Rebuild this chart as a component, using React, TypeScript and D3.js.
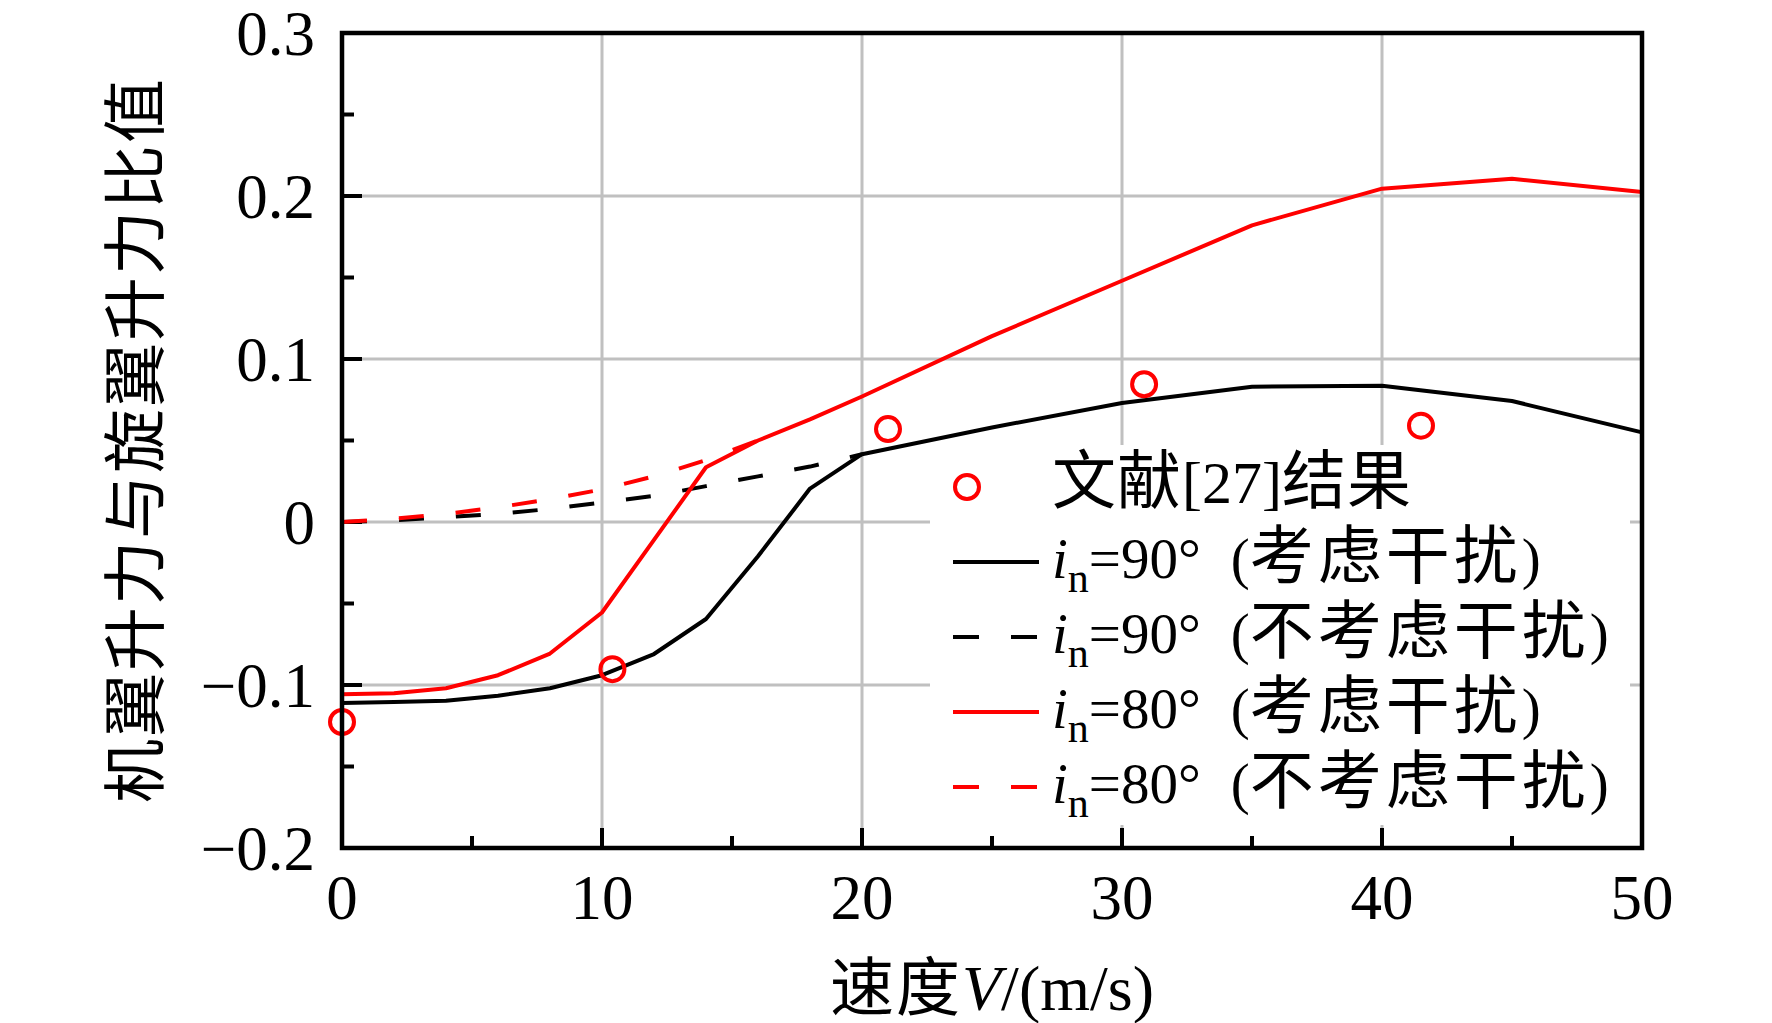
import React from "react";
import * as d3 from "d3";

// ---- data ----
const xSolid = [0, 2, 4, 6, 8, 10, 12, 14, 16, 18, 20, 25, 30, 35, 40, 45, 50];
const black90 = [-0.111, -0.1105, -0.1097, -0.1066, -0.102, -0.094, -0.081, -0.0595, -0.021, 0.0205, 0.0416, 0.058, 0.073, 0.083, 0.0836, 0.0742, 0.055];
const red80 = [-0.1057, -0.105, -0.102, -0.094, -0.0807, -0.0555, -0.011, 0.0336, 0.05, 0.063, 0.077, 0.114, 0.148, 0.182, 0.2045, 0.2106, 0.2025];
const xDash90 = [0, 2, 4, 6, 8, 10, 12, 14, 16, 18, 20];
const black90n = [0, 0.001, 0.003, 0.005, 0.008, 0.012, 0.016, 0.022, 0.028, 0.034, 0.0416];
const xDash80 = [0, 2, 4, 6, 8, 10, 12, 14, 16];
const red80n = [0, 0.002, 0.005, 0.009, 0.014, 0.02, 0.028, 0.038, 0.05];
const refX = [0, 10.4, 21, 30.85, 41.5];
const refY = [-0.1227, -0.0903, 0.057, 0.0845, 0.0591];

const xTicks = [0, 10, 20, 30, 40, 50];
const xMinor = [5, 15, 25, 35, 45];
const yTicks = [-0.2, -0.1, 0, 0.1, 0.2, 0.3];
const yTickLabels = ["\u22120.2", "\u22120.1", "0", "0.1", "0.2", "0.3"];
const yMinor = [-0.15, -0.05, 0.05, 0.15, 0.25];
const xGrid = [10, 20, 30, 40];
const yGrid = [-0.1, 0, 0.1, 0.2];

const legendItems = [
  { angle: "90", note: "考虑干扰", color: "#000000", dashed: false },
  { angle: "90", note: "不考虑干扰", color: "#000000", dashed: true },
  { angle: "80", note: "考虑干扰", color: "#ff0000", dashed: false },
  { angle: "80", note: "不考虑干扰", color: "#ff0000", dashed: true },
];

const SERIF = "'Liberation Serif', 'Times New Roman', serif";
const CJK = "'Noto Sans CJK SC', sans-serif";

export default function App() {
  const W = 1772, H = 1023;
  const L = 342, R = 1642, T = 33, B = 848;
  const x = d3.scaleLinear().domain([0, 50]).range([L, R]);
  const y = d3.scaleLinear().domain([-0.2, 0.3]).range([B, T]);
  const line = d3.line<[number, number]>().x((d) => x(d[0])).y((d) => y(d[1]));
  const zip = (xs: number[], ys: number[]) => xs.map((v, i) => [v, ys[i]] as [number, number]);

  const series = [
    { d: zip(xDash90, black90n), color: "#000", dashed: true },
    { d: zip(xDash80, red80n), color: "#ff0000", dashed: true },
    { d: zip(xSolid, black90), color: "#000", dashed: false },
    { d: zip(xSolid, red80), color: "#ff0000", dashed: false },
  ];

  const legX = 953, legTextX = 1052, legBase0 = 503, legStep = 75;

  return (
    <svg width={W} height={H} style={{ position: "absolute", left: 0, top: 0, background: "#fff" }}>
      <rect x={0} y={0} width={W} height={H} fill="#fff" />
      {/* grid */}
      {xGrid.map((v) => (
        <line key={"gx" + v} x1={x(v)} x2={x(v)} y1={T} y2={B} stroke="#c0c0c0" strokeWidth={3} />
      ))}
      {yGrid.map((v) => (
        <line key={"gy" + v} x1={L} x2={R} y1={y(v)} y2={y(v)} stroke="#c0c0c0" strokeWidth={3} />
      ))}
      {/* legend background */}
      <rect x={930} y={445} width={700} height={380} fill="#fff" />
      {/* ticks */}
      {yTicks.map((v) => (
        <line key={"ty" + v} x1={L} x2={L + 20} y1={y(v)} y2={y(v)} stroke="#000" strokeWidth={4} />
      ))}
      {yMinor.map((v) => (
        <line key={"tym" + v} x1={L} x2={L + 12} y1={y(v)} y2={y(v)} stroke="#000" strokeWidth={4} />
      ))}
      {xTicks.map((v) => (
        <line key={"tx" + v} x1={x(v)} x2={x(v)} y1={B} y2={B - 20} stroke="#000" strokeWidth={4} />
      ))}
      {xMinor.map((v) => (
        <line key={"txm" + v} x1={x(v)} x2={x(v)} y1={B} y2={B - 12} stroke="#000" strokeWidth={4} />
      ))}
      {/* data */}
      {series.map((s, i) => (
        <path key={"s" + i} d={line(s.d) || ""} fill="none" stroke={s.color} strokeWidth={4}
          strokeDasharray={s.dashed ? "25,32" : undefined} strokeLinejoin="round" />
      ))}
      {refX.map((v, i) => (
        <circle key={"c" + i} cx={x(v)} cy={y(refY[i])} r={12} fill="none" stroke="#ff0000" strokeWidth={4} />
      ))}
      {/* frame */}
      <rect x={L} y={T} width={R - L} height={B - T} fill="none" stroke="#000" strokeWidth={4.5} />
      {/* tick labels */}
      {yTicks.map((v, i) => (
        <text key={"yl" + v} x={315} y={y(v) + 22} textAnchor="end" fontFamily={SERIF} fontSize={63} fill="#000">
          {yTickLabels[i]}
        </text>
      ))}
      {xTicks.map((v) => (
        <text key={"xl" + v} x={x(v)} y={919} textAnchor="middle" fontFamily={SERIF} fontSize={63} fill="#000">
          {v}
        </text>
      ))}
      {/* axis titles */}
      <text x={830} y={1010} fontFamily={SERIF} fontSize={64} fill="#000">
        <tspan fontFamily={CJK} fontSize={64} letterSpacing={2}>速度</tspan>
        <tspan fontStyle="italic">V</tspan>
        <tspan>/(m/s)</tspan>
      </text>
      <text transform="translate(130,440) rotate(-90)" textAnchor="middle" dominantBaseline="central"
        fontFamily={CJK} fontSize={64} letterSpacing={2} fill="#000">
        机翼升力与旋翼升力比值
      </text>
      {/* legend */}
      <circle cx={967} cy={487} r={12} fill="none" stroke="#ff0000" strokeWidth={4} />
      <text x={legTextX} y={legBase0} fontFamily={SERIF} fontSize={60} fill="#000">
        <tspan fontFamily={CJK} fontSize={64} letterSpacing={1}>文献</tspan>
        <tspan>[27]</tspan>
        <tspan fontFamily={CJK} fontSize={64} letterSpacing={1}>结果</tspan>
      </text>
      {legendItems.map((it, i) => {
        const base = legBase0 + legStep * (i + 1);
        return (
          <g key={"lg" + i}>
            <line x1={legX} x2={1039} y1={base - 16} y2={base - 16} stroke={it.color} strokeWidth={4}
              strokeDasharray={it.dashed ? "26,32" : undefined} />
            <text x={legTextX} y={base} fontFamily={SERIF} fontSize={57} fill="#000">
              <tspan fontStyle="italic">i</tspan>
              <tspan fontSize={42} dy={14}>n</tspan>
              <tspan dy={-14}>{"=" + it.angle + "°"}</tspan>
              <tspan dx={30}>(</tspan>
              <tspan fontFamily={CJK} fontSize={64} letterSpacing={4}>{it.note}</tspan>
              <tspan>)</tspan>
            </text>
          </g>
        );
      })}
    </svg>
  );
}
